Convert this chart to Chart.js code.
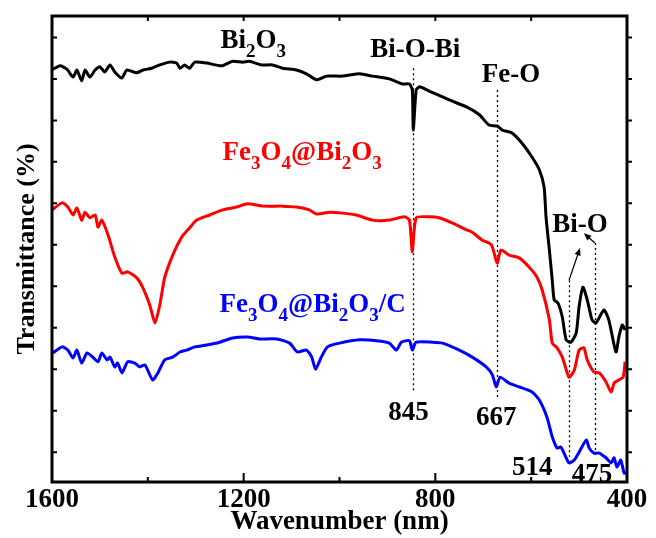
<!DOCTYPE html>
<html>
<head>
<meta charset="utf-8">
<script src="https://cdn.jsdelivr.net/npm/chart.js@4.4.0/dist/chart.umd.min.js"></script>
<style>
  html, body { margin: 0; padding: 0; background: #fff; }
  canvas { display: block; }
</style>
</head>
<body>
<canvas id="graficoFTIR" width="656" height="538"></canvas>
<script>
// Dados (número de onda, transmitância em unidades arbitrárias 0-100)
const bi2o3Wn = [1600, 1598, 1583, 1569, 1556, 1548, 1538, 1531, 1521, 1510, 1500, 1490, 1479, 1469, 1454, 1444, 1423, 1410, 1392, 1375,
  1354, 1340, 1333, 1323, 1313, 1302, 1277, 1246, 1223, 1202, 1188, 1163, 1140, 1119, 1090, 1069, 1048, 1027, 994, 958,
  931, 896, 869, 854, 848, 846, 840, 833, 813, 771, 735, 708, 688, 671, 660, 640, 619, 598, 583, 573,
  569, 562, 556, 552, 544, 535, 527, 517, 506, 500, 492, 483, 473, 465, 448, 438, 423, 417, 410, 404];
const bi2o3T = [88.8, 88.6, 89.3, 88.6, 86.9, 88.4, 86.1, 88.4, 86.9, 88.4, 89.1, 88.0, 89.5, 88.0, 86.7, 88.4, 87.8, 88.4, 88.8, 89.5,
  90.1, 89.9, 88.8, 89.5, 88.8, 90.1, 89.9, 89.3, 90.3, 90.1, 90.3, 89.5, 89.5, 88.8, 88.4, 87.6, 86.3, 87.1, 87.1, 87.6,
  87.1, 86.5, 85.4, 85.4, 84.1, 75.5, 84.1, 84.8, 83.9, 82.0, 80.5, 78.8, 76.6, 76.4, 75.5, 74.9, 72.7, 69.7, 67.0, 63.3,
  56.9, 49.8, 43.3, 39.1, 38.4, 35.4, 30.5, 30.0, 32.0, 37.6, 41.8, 39.1, 34.8, 34.1, 36.9, 34.8, 27.9, 31.1, 33.7, 32.6];

const feBiWn = [1600, 1579, 1567, 1556, 1548, 1538, 1531, 1521, 1510, 1504, 1496, 1483, 1469, 1454, 1442, 1423, 1410, 1396, 1385, 1375,
  1365, 1348, 1329, 1313, 1298, 1271, 1244, 1215, 1192, 1160, 1119, 1090, 1063, 1048, 1021, 994, 965, 931, 896, 865,
  854, 848, 840, 813, 792, 765, 735, 723, 702, 683, 671, 663, 646, 625, 604, 588, 577, 562, 556, 546,
  535, 521, 510, 500, 490, 483, 469, 458, 444, 433, 427, 417, 408, 404];
const feBiT = [58.4, 59.9, 59.0, 57.3, 58.8, 56.2, 57.9, 56.7, 57.3, 54.7, 56.2, 53.0, 48.3, 44.8, 45.1, 43.8, 41.6, 38.0, 34.1, 38.0,
  43.8, 48.7, 52.6, 54.5, 56.2, 57.3, 58.4, 59.0, 59.7, 59.2, 59.2, 59.0, 58.4, 57.5, 57.9, 57.7, 57.3, 56.2, 56.2, 56.9,
  56.2, 49.4, 56.7, 56.9, 56.7, 55.6, 54.1, 53.6, 51.9, 50.9, 47.0, 49.8, 48.7, 48.1, 46.1, 44.0, 41.2, 34.8, 29.8, 28.8,
  26.8, 22.5, 24.0, 28.3, 28.8, 26.2, 23.6, 23.4, 21.5, 19.3, 21.2, 21.9, 22.5, 25.8];

const feBiCWn = [1598, 1579, 1567, 1556, 1548, 1538, 1527, 1515, 1504, 1496, 1485, 1479, 1469, 1463, 1454, 1442, 1427, 1417, 1406, 1390,
  1379, 1365, 1348, 1333, 1319, 1302, 1277, 1250, 1223, 1192, 1167, 1131, 1104, 1088, 1069, 1058, 1050, 1038, 1025, 1000,
  958, 923, 896, 881, 871, 854, 848, 840, 806, 785, 750, 723, 694, 681, 673, 665, 646, 625, 598, 583,
  567, 556, 546, 538, 527, 521, 510, 500, 485, 479, 469, 458, 444, 433, 427, 421, 413, 406, 402];
const feBiCT = [27.7, 29.0, 28.3, 26.6, 28.3, 25.5, 27.7, 26.8, 25.8, 27.7, 26.2, 26.8, 24.7, 25.5, 23.4, 25.8, 25.5, 24.7, 25.1, 21.9,
  23.4, 26.2, 26.8, 27.9, 28.3, 29.0, 29.4, 30.0, 30.9, 31.1, 30.7, 30.7, 29.8, 27.9, 28.3, 26.8, 24.2, 26.8, 29.0, 29.8,
  30.5, 30.3, 29.8, 28.3, 30.0, 30.3, 28.3, 30.0, 30.0, 29.8, 28.3, 26.8, 24.7, 23.0, 20.4, 22.5, 21.2, 20.4, 19.3, 17.6,
  13.9, 9.7, 7.3, 7.5, 5.2, 4.1, 4.7, 6.4, 9.0, 7.3, 6.2, 6.2, 5.2, 4.1, 5.2, 3.2, 4.7, 1.9, 2.1];

// Eixos
const xTicks = [1600, 1200, 800, 400];
const xMinorTicks = [1400, 1000, 600];
const yTicks = [6.4, 15.3, 24.2, 33.1, 42.0, 50.9, 59.8, 68.7, 77.6, 86.5, 95.4];

// Linhas pontilhadas das bandas (número de onda, topo, base)
const guiaWn = [846, 671, 521, 467];
const guiaTopo = [88.8, 84.1, 43.3, 51.3];
const guiaBase = [19.3, 18.0, 5.4, 5.4];

// Rótulos (texto com _ para subscrito)
const rotuloTexto = ['Bi_2O_3', 'Bi-O-Bi', 'Fe-O', 'Fe_3O_4@Bi_2O_3', 'Fe_3O_4@Bi_2O_3/C', 'Bi-O', '845', '667', '514', '475'];
const rotuloWn = [1180, 842, 642, 1078, 1056, 498, 856, 673, 598, 473];
const rotuloT = [93.1, 91.2, 85.8, 69.1, 36.5, 53.6, 13.3, 12.2, 1.5, 0.0];
const rotuloCor = ['#000', '#000', '#000', '#ff0000', '#0000ff', '#000', '#000', '#000', '#000', '#000'];

// Setas Bi-O (cauda -> ponta)
const setaDe = [[521, 43.3], [467, 51.3]];
const setaPara = [[498, 50.2], [490, 53.4]];

const FAMILIA = '"Liberation Serif", "Times New Roman", serif';
const FONTE = 'bold 27px ' + FAMILIA;
const FONTE_SUB = 'bold 19px ' + FAMILIA;

function pontos(wn, t) {
  return wn.map((v, i) => ({ x: v, y: t[i] }));
}

/**
 * Desenha texto centrado com subscritos
 */
function desenharTexto(ctx, texto, cx, baseY, cor) {
  const partes = [];
  for (let i = 0; i < texto.length; i++) {
    if (texto[i] === '_') {
      partes.push({ t: texto[i + 1], sub: true });
      i++;
    } else {
      partes.push({ t: texto[i], sub: false });
    }
  }
  let total = 0;
  partes.forEach(p => {
    ctx.font = p.sub ? FONTE_SUB : FONTE;
    p.w = ctx.measureText(p.t).width;
    total += p.w;
  });
  let px = cx - total / 2;
  ctx.fillStyle = cor;
  ctx.textAlign = 'left';
  ctx.textBaseline = 'alphabetic';
  partes.forEach(p => {
    ctx.font = p.sub ? FONTE_SUB : FONTE;
    ctx.fillText(p.t, px, baseY + (p.sub ? 9 : 0));
    px += p.w;
  });
}

const anotacoesPlugin = {
  id: 'anotacoes',
  beforeDatasetsDraw(chart) {
    const { ctx, scales: { x, y } } = chart;
    ctx.save();
    ctx.strokeStyle = '#000';
    ctx.lineWidth = 1.3;
    ctx.setLineDash([2, 3]);
    ctx.beginPath();
    guiaWn.forEach((wn, i) => {
      const px = Math.round(x.getPixelForValue(wn)) + 0.5;
      ctx.moveTo(px, y.getPixelForValue(guiaTopo[i]));
      ctx.lineTo(px, y.getPixelForValue(guiaBase[i]));
    });
    ctx.stroke();
    ctx.restore();
  },
  afterDraw(chart) {
    const { ctx, chartArea: a, scales: { x, y } } = chart;
    ctx.save();

    // Moldura
    ctx.strokeStyle = '#000';
    ctx.lineWidth = 3;
    ctx.strokeRect(a.left, a.top, a.right - a.left, a.bottom - a.top);

    // Marcas dos eixos
    ctx.lineWidth = 2;
    ctx.beginPath();
    xTicks.forEach(v => {
      const px = x.getPixelForValue(v);
      ctx.moveTo(px, a.bottom); ctx.lineTo(px, a.bottom - 9);
      ctx.moveTo(px, a.top); ctx.lineTo(px, a.top + 5);
    });
    xMinorTicks.forEach(v => {
      const px = x.getPixelForValue(v);
      ctx.moveTo(px, a.bottom); ctx.lineTo(px, a.bottom - 5);
      ctx.moveTo(px, a.top); ctx.lineTo(px, a.top + 5);
    });
    yTicks.forEach(v => {
      const py = y.getPixelForValue(v);
      ctx.moveTo(a.left, py); ctx.lineTo(a.left + 5, py);
      ctx.moveTo(a.right, py); ctx.lineTo(a.right + 5, py);
    });
    ctx.stroke();

    // Setas
    ctx.lineWidth = 1.2;
    ctx.fillStyle = '#000';
    setaDe.forEach((de, i) => {
      const x1 = x.getPixelForValue(de[0]), y1 = y.getPixelForValue(de[1]);
      const x2 = x.getPixelForValue(setaPara[i][0]), y2 = y.getPixelForValue(setaPara[i][1]);
      const ang = Math.atan2(y2 - y1, x2 - x1);
      ctx.beginPath();
      ctx.moveTo(x1, y1);
      ctx.lineTo(x2 - 5 * Math.cos(ang), y2 - 5 * Math.sin(ang));
      ctx.stroke();
      ctx.beginPath();
      ctx.moveTo(x2, y2);
      ctx.lineTo(x2 - 8 * Math.cos(ang - 0.4), y2 - 8 * Math.sin(ang - 0.4));
      ctx.lineTo(x2 - 8 * Math.cos(ang + 0.4), y2 - 8 * Math.sin(ang + 0.4));
      ctx.closePath();
      ctx.fill();
    });

    // Rótulos
    rotuloTexto.forEach((txt, i) => {
      desenharTexto(ctx, txt, x.getPixelForValue(rotuloWn[i]), y.getPixelForValue(rotuloT[i]), rotuloCor[i]);
    });
    ctx.restore();
  }
};

function serie(wn, t, cor) {
  return {
    data: pontos(wn, t),
    borderColor: cor,
    borderWidth: 3,
    pointRadius: 0,
    tension: 0.2,
    fill: false
  };
}

new Chart(document.getElementById('graficoFTIR'), {
  type: 'line',
  data: {
    datasets: [
      serie(bi2o3Wn, bi2o3T, '#000000'),
      serie(feBiWn, feBiT, '#ff0000'),
      serie(feBiCWn, feBiCT, '#0000ff')
    ]
  },
  options: {
    responsive: false,
    animation: false,
    devicePixelRatio: 1,
    layout: { padding: { top: 16, right: 29, left: 0, bottom: 0 } },
    plugins: {
      legend: { display: false },
      tooltip: { enabled: false }
    },
    scales: {
      x: {
        type: 'linear',
        reverse: true,
        min: 400,
        max: 1600,
        afterBuildTicks: scale => { scale.ticks = xTicks.map(v => ({ value: v })); },
        afterFit: scale => { scale.height = 56; },
        grid: { display: false, drawTicks: false },
        border: { display: false },
        ticks: {
          color: '#000',
          padding: 2,
          maxRotation: 0,
          callback: value => String(value),
          font: { family: FAMILIA, size: 27, weight: 'bold' }
        },
        title: {
          display: true,
          text: 'Wavenumber (nm)',
          color: '#000',
          padding: 0,
          font: { family: FAMILIA, size: 27, weight: 'bold' }
        }
      },
      y: {
        type: 'linear',
        min: 0,
        max: 100,
        afterFit: scale => { scale.width = 52; },
        grid: { display: false, drawTicks: false },
        border: { display: false },
        ticks: { display: false },
        title: {
          display: true,
          text: 'Transmittance (%)',
          color: '#000',
          padding: { top: 12, bottom: 0 },
          font: { family: FAMILIA, size: 26, weight: 'bold' }
        }
      }
    }
  },
  plugins: [anotacoesPlugin]
});
</script>
</body>
</html>
